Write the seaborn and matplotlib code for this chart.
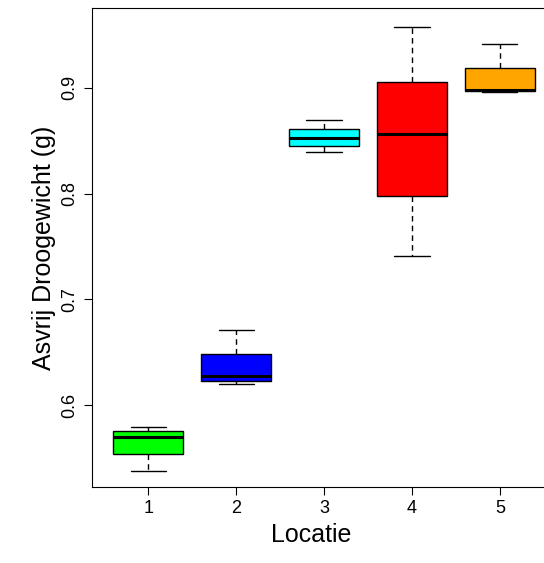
import numpy as np
import pandas as pd
import seaborn as sns
import matplotlib.pyplot as plt

# five values per location (min, q1, median, q3, max)
loc1 = [0.538, 0.554, 0.570, 0.575, 0.579]
loc2 = [0.620, 0.623, 0.627, 0.648, 0.671]
loc3 = [0.839, 0.845, 0.853, 0.861, 0.870]
loc4 = [0.741, 0.798, 0.856, 0.906, 0.958]
loc5 = [0.896, 0.897, 0.898, 0.919, 0.942]
locaties = ['1', '2', '3', '4', '5']
kleuren = ['#00FF00', '#0000FF', '#00FFFF', '#FF0000', '#FFA500']

rows = []
for naam, vals in zip(locaties, [loc1, loc2, loc3, loc4, loc5]):
    for v in vals:
        rows.append({'Locatie': naam, 'Gewicht': v})
df = pd.DataFrame(rows)

sns.set_style('ticks')
plt.rcParams['font.family'] = ['Liberation Sans', 'DejaVu Sans']
plt.rcParams['text.color'] = 'black'
plt.rcParams['axes.labelcolor'] = 'black'
plt.rcParams['xtick.color'] = 'black'
plt.rcParams['ytick.color'] = 'black'

fig = plt.figure(figsize=(5.44, 5.63), dpi=100)
# the right border of the plot box falls just outside the picture, as in the original
ax = fig.add_axes([0.169, 0.135, 0.838, 0.851])
sns.boxplot(data=df, x='Locatie', y='Gewicht', hue='Locatie', palette=kleuren,
            saturation=1, legend=False, whis=(0, 100), width=0.8, linewidth=1,
            linecolor='black',
            whiskerprops={'linestyle': (0, (4, 3))},
            medianprops={'linewidth': 2.2, 'color': 'black'},
            ax=ax)
ax.set_xlim(-0.64, 4.545)
ax.set_ylim(0.5224, 0.9757)
ax.set_yticks([0.6, 0.7, 0.8, 0.9])
ax.set_yticklabels(['0.6', '0.7', '0.8', '0.9'], rotation=90, va='center')
ax.tick_params(labelsize=13, length=6)
ax.set_xlabel('Locatie', fontsize=18)
ax.set_ylabel('Asvrij Droogewicht (g)', fontsize=18)
ax.xaxis.set_label_coords(0.482, -0.075)
for s in ax.spines.values():
    s.set_visible(True)
    s.set_color('black')
fig.savefig('out.png', dpi=100)
